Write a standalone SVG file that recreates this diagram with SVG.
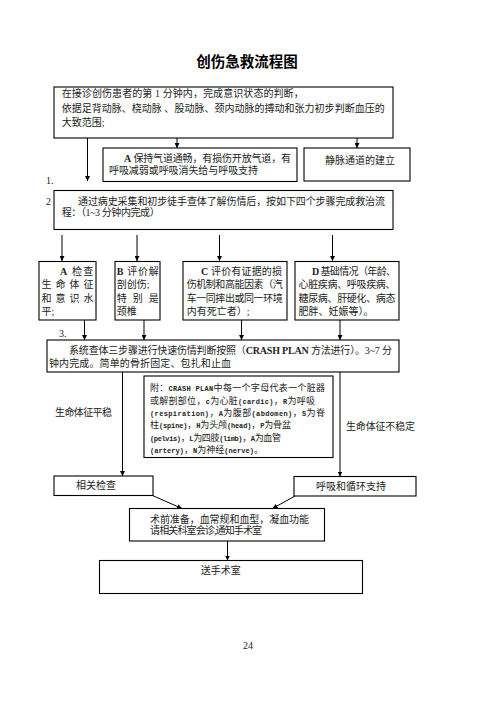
<svg xmlns="http://www.w3.org/2000/svg" width="496" height="702" viewBox="0 0 496 702">
<style>
  .box { fill: #fff; stroke: #000; stroke-width: 1.1; }
  .t { font-family: "Liberation Serif", "Noto Sans CJK SC", serif; font-size: 10px; fill: #222; }
  .s { font-size: 9px; }
  .m { font-family: "Liberation Mono", "Noto Sans CJK SC", monospace; font-weight: bold; font-size: 7px; }
  .title { font-family: "Liberation Sans", "Noto Sans CJK SC", sans-serif; font-size: 14.5px; font-weight: bold; fill: #000; }
  .ln { stroke: #000; stroke-width: 1; fill: none; marker-end: url(#ah); }
</style>
<defs>
  <marker id="ah" viewBox="0 0 6 6" refX="6" refY="3" markerWidth="5" markerHeight="5" orient="auto" markerUnits="userSpaceOnUse">
    <path d="M0,0 L6,3 L0,6 z" fill="#000"/>
  </marker>
</defs>
<rect width="496" height="702" fill="#fff"/>
<text class="title" x="247" y="67" text-anchor="middle">创伤急救流程图</text>

<g id="connectors">
  <line class="ln" x1="87.5" y1="138" x2="87.5" y2="181"/>
  <line class="ln" x1="177" y1="138" x2="177" y2="148"/>
  <line class="ln" x1="357" y1="138" x2="357" y2="148"/>
  <line class="ln" x1="62" y1="235" x2="62" y2="261"/>
  <line class="ln" x1="137" y1="235" x2="137" y2="261"/>
  <line class="ln" x1="219.5" y1="235" x2="219.5" y2="261"/>
  <line class="ln" x1="332.5" y1="235" x2="332.5" y2="261"/>
  <line class="ln" x1="84.5" y1="312" x2="84.5" y2="340"/>
  <line class="ln" x1="144" y1="312" x2="144" y2="340"/>
  <line class="ln" x1="241.5" y1="312" x2="241.5" y2="340"/>
  <line class="ln" x1="340" y1="320" x2="340" y2="340"/>
  <line class="ln" x1="122.5" y1="372" x2="122.5" y2="476"/>
  <line class="ln" x1="340" y1="372" x2="340" y2="476.5"/>
  <line class="ln" x1="152.5" y1="495.5" x2="182" y2="508.5"/>
  <line class="ln" x1="295" y1="496" x2="272.5" y2="508.5"/>
  <line class="ln" x1="227.5" y1="541" x2="227.5" y2="560.5"/>
</g>

<g id="n1">
  <rect class="box" x="54" y="87" width="339" height="51"/>
  <text class="t" x="61.7" y="97" textLength="242" lengthAdjust="spacing">在接诊创伤患者的第 1 分钟内，完成意识状态的判断，</text>
  <text class="t" x="61.7" y="111.5" textLength="323" lengthAdjust="spacing">依据足背动脉、桡动脉 、股动脉、颈内动脉的搏动和张力初步判断血压的</text>
  <text class="t" x="61.7" y="125.5">大致范围;</text>
</g>

<g id="nA">
  <rect class="box" x="103" y="148" width="194" height="33.5"/>
  <text class="t" x="124" y="162" textLength="167" lengthAdjust="spacing"><tspan font-weight="bold">A</tspan> 保持气道通畅，有损伤开放气道，有</text>
  <text class="t" x="109" y="174" textLength="149" lengthAdjust="spacing">呼吸减弱或呼吸消失给与呼吸支持</text>
</g>

<g id="nIV">
  <rect class="box" x="304" y="148" width="106" height="33"/>
  <text class="t" x="325" y="163.5" textLength="70" lengthAdjust="spacing">静脉通道的建立</text>
</g>

<text class="t" x="46" y="184">1.</text>

<g id="n2">
  <rect class="box" x="54" y="190.5" width="339" height="39"/>
  <text class="t" x="78" y="204.5" textLength="307" lengthAdjust="spacing">通过病史采集和初步徒手查体了解伤情后，按如下四个步骤完成救治流</text>
  <text class="t" x="61.7" y="216" textLength="98" lengthAdjust="spacing">程：（1~3 分钟内完成）</text>
</g>
<text class="t" x="46" y="205">2</text>

<g id="nStepA">
  <rect class="box" x="39" y="261.5" width="57" height="58.5"/>
  <text class="t" x="60" y="274.5" textLength="33.3" lengthAdjust="spacing"><tspan font-weight="bold">A</tspan> 检查</text>
  <text class="t" x="41.5" y="288" textLength="52" lengthAdjust="spacing">生命体征</text>
  <text class="t" x="41.5" y="301.5" textLength="52" lengthAdjust="spacing">和意识水</text>
  <text class="t" x="41.5" y="315">平;</text>
</g>

<g id="nStepB">
  <rect class="box" x="115" y="261.5" width="45" height="58.5"/>
  <text class="t" x="116.7" y="274.5" textLength="42" lengthAdjust="spacing"><tspan font-weight="bold">B</tspan> 评价解</text>
  <text class="t" x="116.7" y="288">剖创伤;</text>
  <text class="t" x="116.7" y="301.5" textLength="42" lengthAdjust="spacing">特别是</text>
  <text class="t" x="116.7" y="315">颈椎</text>
</g>

<g id="nStepC">
  <rect class="box" x="183" y="261.5" width="104" height="58.5"/>
  <text class="t" x="201" y="274.5" textLength="81" lengthAdjust="spacing"><tspan font-weight="bold">C</tspan> 评价有证据的损</text>
  <text class="t" x="186.7" y="288" textLength="96" lengthAdjust="spacing">伤机制和高能因素（汽</text>
  <text class="t" x="186.7" y="301.5" textLength="96" lengthAdjust="spacing">车一同摔出或同一环境</text>
  <text class="t" x="186.7" y="315">内有死亡者）;</text>
</g>

<g id="nStepD">
  <rect class="box" x="295" y="261.5" width="104" height="58.5"/>
  <text class="t" x="312" y="274.5" textLength="84" lengthAdjust="spacing"><tspan font-weight="bold">D</tspan> 基础情况（年龄、</text>
  <text class="t" x="298.5" y="288" textLength="97" lengthAdjust="spacing">心脏疾病、呼吸疾病、</text>
  <text class="t" x="298.5" y="301.5" textLength="97" lengthAdjust="spacing">糖尿病、肝硬化、病态</text>
  <text class="t" x="298.5" y="315">肥胖、妊娠等）。</text>
</g>

<text class="t" x="59" y="337">3.</text>

<g id="n3">
  <rect class="box" x="47" y="340" width="352" height="32"/>
  <text class="t" x="69" y="354" textLength="323" lengthAdjust="spacing">系统查体三步骤进行快速伤情判断按照（<tspan font-weight="bold">CRASH PLAN</tspan> 方法进行）。3~7 分</text>
  <text class="t" x="49" y="366.5" textLength="182" lengthAdjust="spacing">钟内完成。简单的骨折固定、包扎和止血</text>
</g>

<g id="note">
  <rect class="box" x="144" y="376" width="189" height="81.5"/>
  <text class="t s" x="150" y="391" textLength="175" lengthAdjust="spacing">附：<tspan class="m">CRASH PLAN</tspan>中每一个字母代表一个脏器</text>
  <text class="t s" x="150" y="403.5" textLength="165" lengthAdjust="spacing">或解剖部位，<tspan class="m">c</tspan>为心脏<tspan class="m">(cardic)</tspan>，<tspan class="m">R</tspan>为呼吸</text>
  <text class="t s" x="150" y="415.5" textLength="175" lengthAdjust="spacing"><tspan class="m">(respiration)</tspan>，<tspan class="m">A</tspan>为腹部<tspan class="m">(abdomen)</tspan>，<tspan class="m">S</tspan>为脊</text>
  <text class="t s" x="150" y="428" textLength="141" lengthAdjust="spacing">柱<tspan class="m">(spine)</tspan>，<tspan class="m">H</tspan>为头颅<tspan class="m">(head)</tspan>，<tspan class="m">P</tspan>为骨盆</text>
  <text class="t s" x="150" y="440.5" textLength="131" lengthAdjust="spacing"><tspan class="m">(pelvis)</tspan>，<tspan class="m">L</tspan>为四肢<tspan class="m">(limb)</tspan>，<tspan class="m">A</tspan>为血管</text>
  <text class="t s" x="150" y="453" textLength="113" lengthAdjust="spacing"><tspan class="m">(artery)</tspan>，<tspan class="m">N</tspan>为神经<tspan class="m">(nerve)</tspan>。</text>
</g>

<text class="t" x="55" y="416" font-size="9.5" textLength="57" lengthAdjust="spacing">生命体征平稳</text>
<text class="t" x="346" y="430" textLength="69" lengthAdjust="spacing">生命体征不稳定</text>

<g id="nExam">
  <rect class="box" x="54" y="476" width="99" height="19.5"/>
  <text class="t" x="96" y="489" text-anchor="middle">相关检查</text>
</g>

<g id="nSupport">
  <rect class="box" x="294" y="476.5" width="122" height="19.5"/>
  <text class="t" x="351" y="489.5" text-anchor="middle">呼吸和循环支持</text>
</g>

<g id="nPrep">
  <rect class="box" x="129.5" y="508.5" width="195" height="32.5"/>
  <text class="t" x="150" y="523" textLength="159" lengthAdjust="spacing">术前准备，血常规和血型，凝血功能</text>
  <text class="t" x="150" y="534" font-size="9" textLength="112" lengthAdjust="spacing">请相关科室会诊,通知手术室</text>
</g>

<g id="nOR">
  <rect class="box" x="99.5" y="560.5" width="263" height="33"/>
  <text class="t" x="220.7" y="573.5" text-anchor="middle">送手术室</text>
</g>

<text class="t" x="248" y="649" font-size="8" text-anchor="middle">24</text>
</svg>
